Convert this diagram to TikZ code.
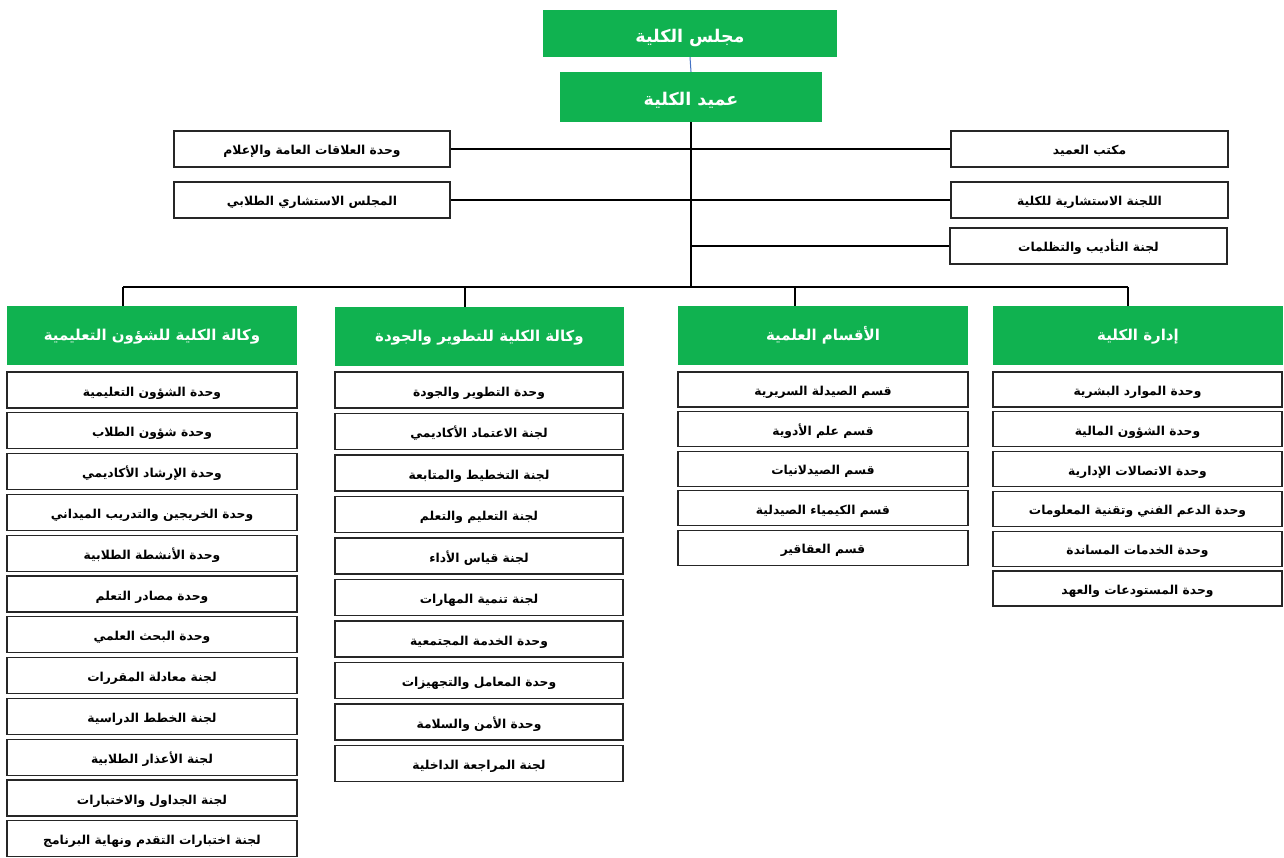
\documentclass[tikz,border=0pt]{standalone}
\usepackage{fontspec}
\newfontfamily\arabicfont[Script=Arabic]{DejaVu Sans}
\TeXXeTstate=1
\definecolor{ogreen}{RGB}{16,178,80}
\definecolor{oblue}{RGB}{68,114,196}
\newcommand{\bx}[7]{\node[#1, minimum width={(#5-#3)*1pt}, minimum height={(#6-#4)*1pt}] (#2) at ({(#3+#5)/2},{(#4+#6)/2}) {#7};}
\begin{document}
\begin{tikzpicture}[x=1pt,y=-1pt,
  greenbox/.style={fill=ogreen, draw=none, text=white, font=\arabicfont\bfseries\fontsize{15}{17}\selectfont, inner sep=0pt, text height=1.0em, text depth=0em},
  topbox/.style={greenbox, font=\arabicfont\bfseries\fontsize{17.5}{19}\selectfont, text height=1.8em, text depth=0em},
  subbox/.style={draw=black!85, line width=1.2pt, fill=white, text=black, font=\arabicfont\bfseries\fontsize{12.3}{14}\selectfont, inner sep=0pt, text height=1.2em, text depth=0em},
  link/.style={draw=black, line width=2pt}]
\useasboundingbox[fill=white] (0,0) rectangle (1284,858);

% top
\bx{topbox}{council}{543}{10}{837}{57}{\beginR مجلس الكلية\endR}
\bx{topbox}{dean}{560}{72}{822}{122}{\beginR عميد الكلية\endR}
\bx{subbox}{l1}{174}{131}{450}{167}{\beginR وحدة العلاقات العامة والإعلام\endR}
\bx{subbox}{l2}{174}{182}{450}{218}{\beginR المجلس الاستشاري الطلابي\endR}
\bx{subbox}{r1}{951}{131}{1228}{167}{\beginR مكتب العميد\endR}
\bx{subbox}{r2}{951}{182}{1228}{218}{\beginR اللجنة الاستشارية للكلية\endR}
\bx{subbox}{r3}{950}{228}{1227}{264}{\beginR لجنة التأديب والتظلمات\endR}

% column headers
\bx{greenbox}{h1}{7}{306}{297}{365}{\beginR وكالة الكلية للشؤون التعليمية\endR}
\bx{greenbox}{h2}{335}{307}{624}{366}{\beginR وكالة الكلية للتطوير والجودة\endR}
\bx{greenbox}{h3}{678}{306}{968}{365}{\beginR الأقسام العلمية\endR}
\bx{greenbox}{h4}{993}{306}{1283}{365}{\beginR إدارة الكلية\endR}

% column 1
\foreach \t [count=\i] in {وحدة الشؤون التعليمية,وحدة شؤون الطلاب,وحدة الإرشاد الأكاديمي,وحدة الخريجين والتدريب الميداني,وحدة الأنشطة الطلابية,وحدة مصادر التعلم,وحدة البحث العلمي,لجنة معادلة المقررات,لجنة الخطط الدراسية,لجنة الأعذار الطلابية,لجنة الجداول والاختبارات,لجنة اختبارات التقدم ونهاية البرنامج}
  \node[subbox, minimum width=290pt, minimum height=36pt] (a\i) at (152,{372+18+(\i-1)*40.8}) {\beginR\t\endR};

% column 2
\foreach \t [count=\i] in {وحدة التطوير والجودة,لجنة الاعتماد الأكاديمي,لجنة التخطيط والمتابعة,لجنة التعليم والتعلم,لجنة قياس الأداء,لجنة تنمية المهارات,وحدة الخدمة المجتمعية,وحدة المعامل والتجهيزات,وحدة الأمن والسلامة,لجنة المراجعة الداخلية}
  \node[subbox, minimum width=288pt, minimum height=36pt] (b\i) at (479,{372+18+(\i-1)*41.5}) {\beginR\t\endR};

% column 3
\foreach \t [count=\i] in {قسم الصيدلة السريرية,قسم علم الأدوية,قسم الصيدلانيات,قسم الكيمياء الصيدلية,قسم العقاقير}
  \node[subbox, minimum width=290pt, minimum height=35pt] (c\i) at (823,{372+17.5+(\i-1)*39.6}) {\beginR\t\endR};

% column 4
\foreach \t [count=\i] in {وحدة الموارد البشرية,وحدة الشؤون المالية,وحدة الاتصالات الإدارية,وحدة الدعم الفني وتقنية المعلومات,وحدة الخدمات المساندة,وحدة المستودعات والعهد}
  \node[subbox, minimum width=289pt, minimum height=35pt] (d\i) at (1137.5,{372+17.5+(\i-1)*39.8}) {\beginR\t\endR};

% connectors
\coordinate (bus) at (691,287);
\coordinate (p1) at (123,287);
\coordinate (p2) at (465,287);
\coordinate (p3) at (795,287);
\coordinate (p4) at (1128,287);
\draw[oblue, line width=1pt] (council.south) -- (dean.north);
\draw[link] (dean.south) -- (bus);
\draw[link] (l1.east) -- (r1.west);
\draw[link] (l2.east) -- (r2.west);
\draw[link] (r3.west) -- (r3.west -| dean.south);
\draw[link] (p1) -- (p4);
\draw[link] (p1) -- (p1 |- h1.north);
\draw[link] (p2) -- (p2 |- h2.north);
\draw[link] (p3) -- (p3 |- h3.north);
\draw[link] (p4) -- (p4 |- h4.north);
\end{tikzpicture}
\end{document}
